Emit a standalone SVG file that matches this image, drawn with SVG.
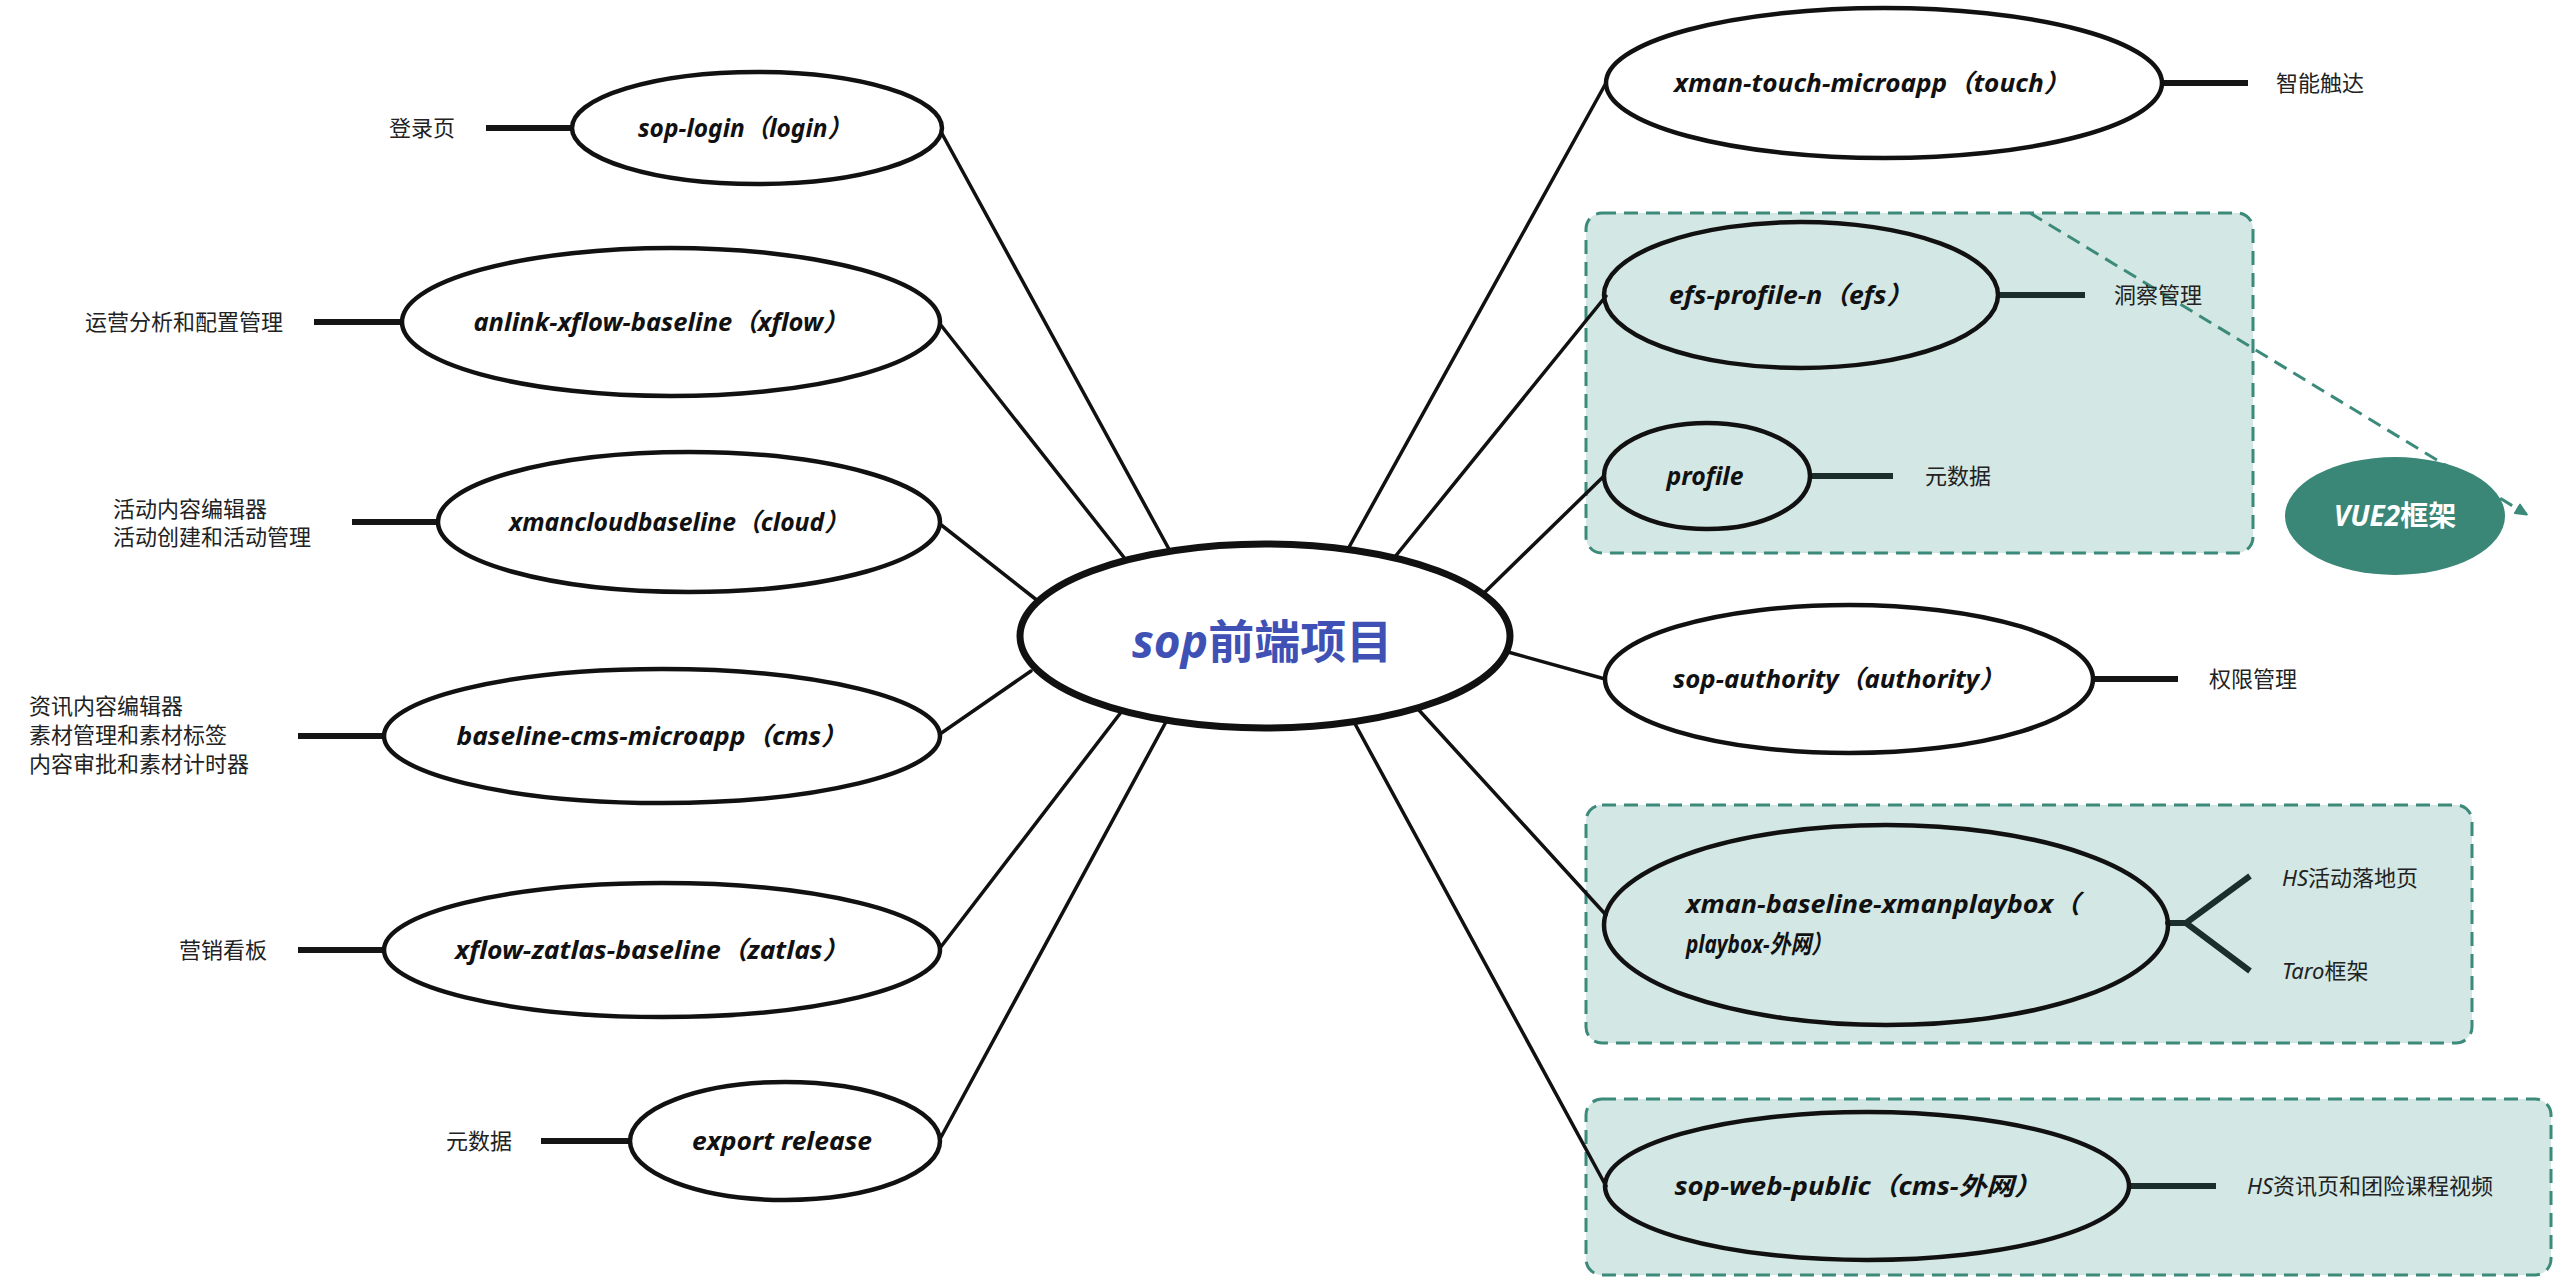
<svg xmlns="http://www.w3.org/2000/svg" width="2564" height="1288" viewBox="0 0 2564 1288">
  <defs>
    <style>
      .node { fill: #ffffff; stroke: #111111; stroke-width: 4.5; }
      .node-in { fill: none; stroke: #111111; stroke-width: 4.5; }
      .hub { fill: #ffffff; stroke: #111111; stroke-width: 7; }
      .edge { stroke: #111111; stroke-width: 3.5; fill: none; stroke-linecap: round; }
      .stub { stroke: #151515; stroke-width: 6; fill: none; }
      .stub-in { stroke: #1c2e2b; stroke-width: 6; fill: none; }
      .group { fill: #d3e7e4; stroke: #3b8a7a; stroke-width: 3; stroke-dasharray: 14 8; }
      .title { font-family: "Noto Sans", "Noto Sans CJK SC", sans-serif; font-style: italic; font-weight: 700; font-size: 25px; fill: #111111; }
      .note { font-family: "Noto Sans CJK SC", "Noto Sans", sans-serif; font-size: 22px; fill: #222222; }
      .it { font-family: "Noto Sans", sans-serif; font-style: italic; }
      .hubtext { font-family: "Noto Sans CJK SC", "Noto Sans", sans-serif; font-weight: 700; font-size: 46px; fill: #3f51b5; }
      .tag { font-family: "Noto Sans CJK SC", "Noto Sans", sans-serif; font-weight: 700; font-size: 28px; fill: #ffffff; }
      .dash-link { stroke: #3b8a7a; stroke-width: 3; stroke-dasharray: 14 8; fill: none; }
    </style>
    <marker id="arrow-teal" viewBox="0 0 12 12" refX="10" refY="6" markerWidth="4.5" markerHeight="4.5" orient="auto" markerUnits="strokeWidth">
      <path d="M1,1.5 L11,6 L1,10.5 Z" fill="#3b8a7a" stroke="#3b8a7a" stroke-width="1.5" stroke-linejoin="round"/>
    </marker>
  </defs>

  <rect width="2564" height="1288" fill="#ffffff"/>

  <!-- grouping panels -->
  <g id="panel-vue2">
    <rect class="group" x="1586" y="213" width="667" height="340" rx="16"/>
  </g>
  <g id="panel-playbox">
    <rect class="group" x="1586" y="805" width="886" height="238" rx="16"/>
  </g>
  <g id="panel-public">
    <rect class="group" x="1586" y="1099" width="965" height="176" rx="16"/>
  </g>

  <!-- connectors -->
  <g id="connectors">
    <!-- hub to left projects -->
    <line class="edge" x1="940" y1="130" x2="1170" y2="551"/>
    <line class="edge" x1="940" y1="324" x2="1126" y2="560"/>
    <line class="edge" x1="940" y1="524" x2="1038" y2="601"/>
    <line class="edge" x1="940" y1="734" x2="1031" y2="671"/>
    <line class="edge" x1="940" y1="948" x2="1122" y2="711"/>
    <line class="edge" x1="940" y1="1139" x2="1167" y2="720"/>
    <!-- hub to right projects -->
    <line class="edge" x1="1348" y1="549" x2="1606" y2="83"/>
    <line class="edge" x1="1394" y1="558" x2="1606" y2="296"/>
    <line class="edge" x1="1483" y1="594" x2="1604" y2="476"/>
    <line class="edge" x1="1508" y1="652" x2="1605" y2="679"/>
    <line class="edge" x1="1417" y1="708" x2="1606" y2="915"/>
    <line class="edge" x1="1354" y1="722" x2="1606" y2="1186"/>

    <!-- description stubs, left -->
    <line class="stub" x1="486" y1="128" x2="572" y2="128"/>
    <line class="stub" x1="314" y1="322" x2="402" y2="322"/>
    <line class="stub" x1="352" y1="522" x2="438" y2="522"/>
    <line class="stub" x1="298" y1="736" x2="384" y2="736"/>
    <line class="stub" x1="298" y1="950" x2="384" y2="950"/>
    <line class="stub" x1="541" y1="1141" x2="629" y2="1141"/>
    <!-- description stubs, right -->
    <line class="stub" x1="2162" y1="83" x2="2248" y2="83"/>
    <line class="stub-in" x1="1998" y1="295" x2="2085" y2="295"/>
    <line class="stub-in" x1="1810" y1="476" x2="1893" y2="476"/>
    <line class="stub" x1="2093" y1="679" x2="2178" y2="679"/>
    <polyline class="stub-in" stroke-width="5" stroke-linejoin="round" points="2250,876 2186,923 2168,923 2186,923 2250,971"/>
    <line class="stub-in" x1="2129" y1="1186" x2="2216" y2="1186"/>

    <!-- framework link -->
    <line class="dash-link" x1="2030" y1="213" x2="2526" y2="514" marker-end="url(#arrow-teal)"/>
  </g>

  <!-- hub -->
  <g id="hub">
    <ellipse class="hub" cx="1265" cy="636" rx="245" ry="92"/>
    <text class="hubtext" x="1132" y="658"><tspan class="it" font-style="italic">sop</tspan>前端项目</text>
  </g>

  <!-- left projects -->
  <g id="node-login">
    <ellipse class="node" cx="757" cy="128" rx="185" ry="56"/>
    <text class="title" x="745" y="137" text-anchor="middle" textLength="214" lengthAdjust="spacingAndGlyphs">sop-login（login）</text>
    <text class="note" x="455" y="136" text-anchor="end">登录页</text>
  </g>
  <g id="node-xflow">
    <ellipse class="node" cx="671" cy="322" rx="269" ry="74"/>
    <text class="title" x="661" y="331" text-anchor="middle" textLength="375" lengthAdjust="spacingAndGlyphs">anlink-xflow-baseline（xflow）</text>
    <text class="note" x="283" y="330" text-anchor="end">运营分析和配置管理</text>
  </g>
  <g id="node-cloud">
    <ellipse class="node" cx="689" cy="522" rx="251" ry="70"/>
    <text class="title" x="679" y="531" text-anchor="middle" textLength="340" lengthAdjust="spacingAndGlyphs">xmancloudbaseline（cloud）</text>
    <text class="note" x="113" y="517">活动内容编辑器</text>
    <text class="note" x="113" y="545">活动创建和活动管理</text>
  </g>
  <g id="node-cms">
    <ellipse class="node" cx="662" cy="736" rx="278" ry="67"/>
    <text class="title" x="652" y="745" text-anchor="middle" textLength="391" lengthAdjust="spacingAndGlyphs">baseline-cms-microapp（cms）</text>
    <text class="note" x="29" y="714">资讯内容编辑器</text>
    <text class="note" x="29" y="743">素材管理和素材标签</text>
    <text class="note" x="29" y="772">内容审批和素材计时器</text>
  </g>
  <g id="node-zatlas">
    <ellipse class="node" cx="662" cy="950" rx="278" ry="67"/>
    <text class="title" x="652" y="959" text-anchor="middle" textLength="394" lengthAdjust="spacingAndGlyphs">xflow-zatlas-baseline（zatlas）</text>
    <text class="note" x="267" y="958" text-anchor="end">营销看板</text>
  </g>
  <g id="node-export">
    <ellipse class="node" cx="785" cy="1141" rx="155" ry="59"/>
    <text class="title" x="782" y="1150" text-anchor="middle" textLength="180" lengthAdjust="spacingAndGlyphs">export release</text>
    <text class="note" x="512" y="1149" text-anchor="end">元数据</text>
  </g>

  <!-- right projects -->
  <g id="node-touch">
    <ellipse class="node" cx="1884" cy="83" rx="278" ry="75"/>
    <text class="title" x="1872" y="92" text-anchor="middle" textLength="396" lengthAdjust="spacingAndGlyphs">xman-touch-microapp（touch）</text>
    <text class="note" x="2276" y="91">智能触达</text>
  </g>
  <g id="node-efs">
    <ellipse class="node-in" cx="1801" cy="295" rx="197" ry="73"/>
    <text class="title" x="1791" y="304" text-anchor="middle" textLength="244" lengthAdjust="spacingAndGlyphs">efs-profile-n（efs）</text>
    <text class="note" x="2114" y="303">洞察管理</text>
  </g>
  <g id="node-profile">
    <ellipse class="node-in" cx="1707" cy="476" rx="103" ry="53"/>
    <text class="title" x="1705" y="485" text-anchor="middle" textLength="77" lengthAdjust="spacingAndGlyphs">profile</text>
    <text class="note" x="1925" y="484">元数据</text>
  </g>
  <g id="node-vue2">
    <ellipse cx="2395" cy="516" rx="110" ry="59" fill="#3a8777"/>
    <text class="tag" x="2395" y="526" text-anchor="middle"><tspan class="it" font-style="italic">VUE2</tspan>框架</text>
  </g>
  <g id="node-authority">
    <ellipse class="node" cx="1849" cy="679" rx="244" ry="74"/>
    <text class="title" x="1839" y="688" text-anchor="middle" textLength="332" lengthAdjust="spacingAndGlyphs">sop-authority（authority）</text>
    <text class="note" x="2209" y="687">权限管理</text>
  </g>
  <g id="node-playbox">
    <ellipse class="node-in" cx="1886" cy="925" rx="282" ry="100"/>
    <text class="title" x="1686" y="913" textLength="394" lengthAdjust="spacingAndGlyphs">xman-baseline-xmanplaybox（</text>
    <text class="title" x="1686" y="953" textLength="146" lengthAdjust="spacingAndGlyphs">playbox-外网）</text>
    <text class="note" x="2282" y="886"><tspan class="it">HS</tspan>活动落地页</text>
    <text class="note" x="2282" y="979"><tspan class="it">Taro</tspan>框架</text>
  </g>
  <g id="node-public">
    <ellipse class="node-in" cx="1867" cy="1186" rx="262" ry="74"/>
    <text class="title" x="1858" y="1195" text-anchor="middle" textLength="367" lengthAdjust="spacingAndGlyphs">sop-web-public（cms-外网）</text>
    <text class="note" x="2247" y="1194"><tspan class="it">HS</tspan>资讯页和团险课程视频</text>
  </g>
</svg>
